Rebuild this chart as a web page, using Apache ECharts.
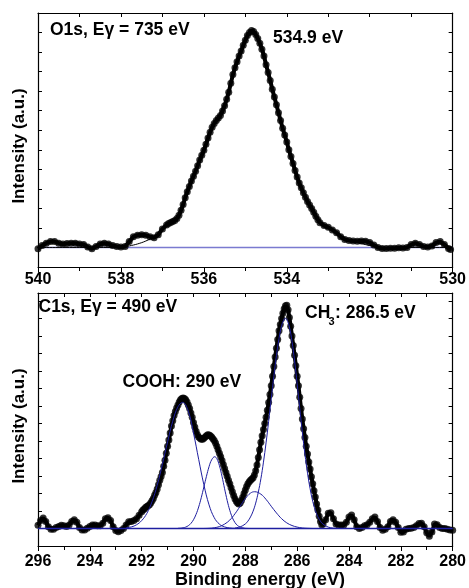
<!DOCTYPE html>
<html>
<head>
<meta charset="utf-8">
<script src="https://cdn.jsdelivr.net/npm/echarts@6/dist/echarts.min.js"></script>
<style>
html,body{margin:0;padding:0;background:#fff;}
#chart{width:469px;height:588px;}
</style>
</head>
<body>
<div id="chart"></div>
<script>
// ---------- DATA ----------
// O1s spectrum: [binding energy (eV), intensity (a.u.)]
var o1sPoints = [
[540.0,-0.07],[539.9,0.1],[539.8,0.22],[539.7,0.3],[539.6,0.3],[539.5,0.22],[539.4,0.18],[539.3,0.2],[539.2,0.22],[539.1,0.22],
[539.0,0.18],[538.9,0.15],[538.8,0.02],[538.7,-0.07],[538.6,0.05],[538.5,0.18],[538.4,0.22],[538.3,0.18],[538.2,0.1],[538.1,0.05],
[538.0,0.02],[537.9,0.05],[537.8,0.3],[537.7,0.55],[537.6,0.63],[537.5,0.65],[537.4,0.62],[537.3,0.55],[537.2,0.5],[537.1,0.65],
[537.0,0.95],[536.9,1.15],[536.85,1.22],[536.8,1.28],[536.75,1.33],[536.7,1.38],[536.65,1.48],[536.6,1.65],[536.55,1.9],[536.5,2.2],
[536.45,2.55],[536.4,2.85],[536.35,3.12],[536.3,3.4],[536.25,3.65],[536.2,3.9],[536.15,4.18],[536.1,4.47],[536.05,4.72],[536.0,4.97],
[535.95,5.28],[535.9,5.6],[535.85,5.9],[535.8,6.15],[535.75,6.35],[535.7,6.5],[535.65,6.62],[535.6,6.76],[535.55,6.98],[535.5,7.25],
[535.45,7.58],[535.4,7.95],[535.35,8.4],[535.3,8.85],[535.25,9.2],[535.2,9.5],[535.15,9.8],[535.1,10.05],[535.05,10.35],[535.0,10.6],
[534.95,10.85],[534.9,11.0],[534.85,11.1],[534.8,11.05],[534.75,10.9],[534.7,10.7],[534.65,10.45],[534.6,10.15],[534.55,9.8],[534.5,9.35],
[534.45,8.95],[534.4,8.55],[534.35,8.1],[534.3,7.7],[534.25,7.3],[534.2,6.9],[534.15,6.5],[534.1,6.1],[534.05,5.75],[534.0,5.4],
[533.95,5.0],[533.9,4.65],[533.85,4.3],[533.8,3.94],[533.75,3.6],[533.7,3.3],[533.65,3.05],[533.6,2.8],[533.55,2.57],[533.5,2.35],
[533.45,2.17],[533.4,2.0],[533.35,1.8],[533.3,1.6],[533.25,1.42],[533.2,1.27],[533.1,1.12],[533.0,1.03],[532.9,0.9],[532.8,0.75],
[532.7,0.55],[532.6,0.41],[532.5,0.36],[532.4,0.33],[532.3,0.32],[532.2,0.33],[532.1,0.32],[532.0,0.25],[531.9,0.12],[531.8,0.0],
[531.7,-0.05],[531.6,-0.05],[531.5,-0.04],[531.4,-0.04],[531.3,-0.02],[531.2,-0.03],[531.1,0.0],[531.0,0.15],[530.9,0.22],[530.8,0.15],
[530.7,0.05],[530.6,0.02],[530.5,0.08],[530.4,0.25],[530.3,0.3],[530.2,0.15],[530.1,-0.05],[530.05,-0.1]
];
// O1s fitted envelope (thin black line)
var o1sFit = [
[540,0.0],[539,0.0],[538.2,0.0],[538.0,0.02],[537.8,0.08],[537.6,0.18],[537.4,0.33],[537.2,0.55],[537.0,0.88],[536.8,1.28],
[536.6,1.75],[536.4,2.7],[536.2,3.9],[536.0,5.0],[535.8,6.1],[535.6,6.95],[535.4,8.0],[535.2,9.4],[535.0,10.45],[534.9,10.85],
[534.8,10.95],[534.7,10.65],[534.6,10.1],[534.4,8.55],[534.2,6.9],[534.0,5.4],[533.8,3.94],[533.6,2.8],[533.4,2.0],[533.2,1.3],
[533.0,1.0],[532.8,0.72],[532.6,0.48],[532.4,0.32],[532.2,0.2],[532.0,0.1],[531.8,0.04],[531.5,0.0],[530,0.0]
];
var o1sBaseline = [[540,0],[530,0]];

// C1s spectrum: [binding energy (eV), intensity (a.u.)]
var c1sPoints = [
[296.0,0.18],[295.9,0.45],[295.8,0.6],[295.7,0.4],[295.6,0.1],[295.5,-0.05],[295.4,-0.05],[295.3,0.05],[295.2,0.12],[295.1,0.18],
[295.0,0.15],[294.9,0.12],[294.8,0.2],[294.7,0.4],[294.6,0.5],[294.5,0.35],[294.4,0.05],[294.3,-0.08],[294.2,-0.08],[294.1,0.02],
[294.0,0.12],[293.9,0.2],[293.8,0.2],[293.7,0.15],[293.6,0.15],[293.5,0.3],[293.4,0.55],[293.3,0.62],[293.2,0.45],[293.1,0.1],
[293.0,-0.12],[292.9,-0.18],[292.8,-0.12],[292.7,0.0],[292.6,0.2],[292.5,0.38],[292.4,0.4],[292.3,0.45],[292.2,0.55],[292.1,0.75],
[292.0,0.95],[291.95,1.05],[291.9,1.12],[291.85,1.2],[291.8,1.25],[291.75,1.3],[291.7,1.35],[291.65,1.45],[291.6,1.58],[291.55,1.72],
[291.5,1.9],[291.45,2.05],[291.4,2.25],[291.35,2.5],[291.3,2.75],[291.25,2.97],[291.2,3.2],[291.15,3.55],[291.1,3.9],[291.05,4.3],
[291.0,4.7],[290.95,5.05],[290.9,5.45],[290.85,5.85],[290.8,6.15],[290.75,6.45],[290.7,6.68],[290.65,6.88],[290.6,7.05],[290.55,7.22],
[290.5,7.35],[290.45,7.42],[290.4,7.45],[290.35,7.42],[290.3,7.35],[290.25,7.22],[290.2,7.05],[290.15,6.85],[290.1,6.6],[290.05,6.35],
[290.0,6.05],[289.95,5.8],[289.9,5.55],[289.85,5.35],[289.8,5.22],[289.75,5.15],[289.7,5.1],[289.65,5.1],[289.6,5.15],[289.55,5.22],
[289.5,5.3],[289.45,5.35],[289.4,5.34],[289.35,5.3],[289.3,5.22],[289.25,5.12],[289.2,5.02],[289.15,4.88],[289.1,4.7],[289.05,4.5],
[289.0,4.3],[288.95,4.1],[288.9,3.88],[288.85,3.65],[288.8,3.42],[288.75,3.2],[288.7,2.98],[288.65,2.75],[288.6,2.55],[288.55,2.33],
[288.5,2.1],[288.45,1.88],[288.4,1.7],[288.35,1.55],[288.3,1.45],[288.25,1.4],[288.2,1.45],[288.15,1.6],[288.1,1.78],[288.05,2.0],
[288.0,2.2],[287.95,2.4],[287.9,2.55],[287.85,2.67],[287.8,2.75],[287.75,2.82],[287.7,2.9],[287.65,3.05],[287.6,3.3],[287.55,3.63],
[287.5,4.05],[287.45,4.5],[287.4,4.92],[287.35,5.3],[287.3,5.65],[287.25,6.0],[287.2,6.35],[287.15,6.75],[287.1,7.2],[287.05,7.65],
[287.0,8.15],[286.95,8.7],[286.9,9.25],[286.85,9.8],[286.8,10.3],[286.75,10.8],[286.7,11.3],[286.65,11.65],[286.6,12.0],[286.55,12.3],
[286.5,12.55],[286.45,12.72],[286.4,12.75],[286.35,12.5],[286.3,12.05],[286.25,11.55],[286.2,11.0],[286.15,10.45],[286.1,9.9],[286.05,9.3],
[286.0,8.7],[285.95,8.15],[285.9,7.5],[285.85,6.85],[285.8,6.25],[285.75,5.7],[285.7,5.2],[285.65,4.7],[285.6,4.25],[285.55,3.8],
[285.5,3.4],[285.45,2.95],[285.4,2.55],[285.35,2.15],[285.3,1.8],[285.25,1.4],[285.2,1.05],[285.15,0.7],[285.1,0.4],[285.05,0.22],
[285.0,0.25],[284.9,0.5],[284.8,0.87],[284.7,0.9],[284.6,0.55],[284.5,0.25],[284.4,0.2],[284.3,0.2],[284.2,0.2],[284.1,0.35],
[284.0,0.65],[283.9,0.77],[283.8,0.5],[283.7,0.1],[283.6,0.0],[283.5,0.05],[283.4,0.15],[283.3,0.22],[283.2,0.35],[283.1,0.55],
[283.0,0.65],[282.9,0.4],[282.8,0.05],[282.7,-0.1],[282.6,-0.05],[282.5,0.1],[282.4,0.4],[282.3,0.5],[282.2,0.35],[282.1,0.05],
[282.0,-0.22],[281.9,-0.2],[281.8,-0.05],[281.7,0.0],[281.6,0.02],[281.5,0.05],[281.4,0.15],[281.3,0.28],[281.2,0.3],[281.1,0.1],
[281.0,-0.25],[280.9,-0.45],[280.8,-0.2],[280.7,0.25],[280.6,0.22],[280.5,0.05],[280.4,0.0],[280.3,0.0],[280.2,-0.05],[280.1,-0.08],
[280.0,-0.1]
];
// C1s fitted components (blue lines)
var c1sCOOH = [
[292.6,0.04],[292.4,0.09],[292.2,0.21],[292.0,0.45],[291.8,0.86],[291.6,1.53],[291.4,2.47],[291.2,3.66],[291.0,4.95],[290.8,6.13],
[290.6,6.95],[290.42,7.2],[290.2,6.7],[290.0,5.45],[289.8,3.95],[289.6,2.5],[289.4,1.35],[289.2,0.62],[289.0,0.25],[288.8,0.09],
[288.6,0.03],[288.4,0.01],[288.2,0.0]
];
var c1sPeak2 = [
[290.6,0.01],[290.5,0.02],[290.4,0.04],[290.3,0.08],[290.2,0.16],[290.1,0.29],[290.0,0.5],[289.9,0.81],[289.8,1.23],[289.7,1.76],
[289.6,2.37],[289.5,2.98],[289.4,3.53],[289.3,3.92],[289.18,4.1],[289.1,3.99],[289.0,3.59],[288.9,2.98],[288.8,2.27],[288.7,1.6],
[288.6,1.04],[288.5,0.62],[288.4,0.34],[288.3,0.17],[288.2,0.08],[288.1,0.04],[288.0,0.01],[287.8,0.0]
];
var c1sPeak3 = [
[289.6,0.0],[289.4,0.01],[289.2,0.04],[289.0,0.11],[288.8,0.25],[288.6,0.48],[288.4,0.84],[288.2,1.27],[288.0,1.71],[287.8,2.02],
[287.64,2.1],[287.4,1.96],[287.2,1.66],[287.0,1.27],[286.8,0.89],[286.6,0.56],[286.4,0.32],[286.2,0.17],[286.0,0.08],[285.8,0.03],
[285.6,0.01],[285.4,0.0]
];
var c1sCH3 = [
[288.4,0.03],[288.2,0.09],[288.0,0.26],[287.9,0.42],[287.8,0.66],[287.7,0.99],[287.6,1.45],[287.5,2.07],[287.4,2.84],[287.3,3.79],
[287.2,4.89],[287.1,6.12],[287.0,7.41],[286.9,8.69],[286.8,9.87],[286.7,10.86],[286.6,11.58],[286.5,11.95],[286.45,12.0],[286.4,11.94],
[286.3,11.51],[286.2,10.69],[286.1,9.57],[286.0,8.26],[285.9,6.86],[285.8,5.5],[285.7,4.24],[285.6,3.16],[285.5,2.27],[285.4,1.56],
[285.3,1.04],[285.2,0.67],[285.1,0.41],[285.0,0.25],[284.8,0.08],[284.6,0.02],[284.4,0.0]
];
var c1sBaseline = [[296,0],[280,0]];

var o1sTicks = {min: 530, max: 540, step: 2};
var c1sTicks = {min: 280, max: 296, step: 2};

// ---------- CHART ----------
var FONT = '"Liberation Sans", Arial, Helvetica, sans-serif';
var chart = echarts.init(document.getElementById('chart'), null, {renderer: 'canvas'});

function bottomX(grid, t, margin) {
  return {
    type: 'value', gridIndex: grid, min: t.min, max: t.max, interval: t.step, inverse: true,
    position: 'bottom',
    axisLine: {show: true, onZero: false, lineStyle: {color: '#000', width: 1.2}},
    axisTick: {show: true, inside: false, length: 5, lineStyle: {color: '#000', width: 1}},
    minorTick: {show: true, splitNumber: 2, length: 4, lineStyle: {color: '#000', width: 1}},
    splitLine: {show: false}, minorSplitLine: {show: false},
    axisLabel: {show: true, margin: margin, color: '#000', fontSize: 16, fontWeight: 'bold', fontFamily: FONT}
  };
}
function topX(grid, t) {
  return {
    type: 'value', gridIndex: grid, min: t.min, max: t.max, interval: 1, inverse: true,
    position: 'top',
    axisLine: {show: true, onZero: false, lineStyle: {color: '#000', width: 1.2}},
    axisTick: {show: true, inside: true, length: 4, lineStyle: {color: '#000', width: 1}},
    splitLine: {show: false}, axisLabel: {show: false}
  };
}
function yAx(grid, pos, max) {
  return {
    type: 'value', gridIndex: grid, min: -1, max: max, interval: 1, position: pos,
    axisLine: {show: true, onZero: false, lineStyle: {color: '#000', width: 1.2}},
    axisTick: {show: true, inside: true, length: 4, lineStyle: {color: '#000', width: 1}},
    splitLine: {show: false}, axisLabel: {show: false}
  };
}
function txt(x, y, s, size, extra) {
  var o = {type: 'text', x: x, y: y, silent: true,
    style: {text: s, fill: '#000', font: 'bold ' + size + 'px ' + FONT, textVerticalAlign: 'middle', textAlign: 'left'}};
  if (extra) { for (var k in extra) o.style[k] = extra[k]; }
  return o;
}

var BLUE = '#1e1ea0';
function comp(data) {
  return {type: 'line', xAxisIndex: 2, yAxisIndex: 2, data: data, showSymbol: false, smooth: 0.4,
    lineStyle: {color: BLUE, width: 1}, z: 4, silent: true};
}
function dots(xi, yi, data) {
  return [
    {type: 'line', xAxisIndex: xi, yAxisIndex: yi, data: data, showSymbol: false,
      lineStyle: {color: '#000', width: 4}, z: 2, silent: true},
    {type: 'scatter', xAxisIndex: xi, yAxisIndex: yi, data: data, symbol: 'circle', symbolSize: 7,
      itemStyle: {color: '#000'}, z: 2, silent: true}
  ];
}

var series = [
  {type: 'line', xAxisIndex: 0, yAxisIndex: 0, data: o1sBaseline, showSymbol: false,
    lineStyle: {color: '#7a7ad0', width: 1.5}, z: 1, silent: true}
].concat(dots(0, 0, o1sPoints)).concat([
  {type: 'line', xAxisIndex: 0, yAxisIndex: 0, data: o1sFit, showSymbol: false, smooth: 0.4,
    lineStyle: {color: '#000', width: 1}, z: 3, silent: true}
]).concat(dots(2, 2, c1sPoints)).concat([
  comp(c1sCOOH), comp(c1sPeak2), comp(c1sPeak3), comp(c1sCH3),
  {type: 'line', xAxisIndex: 2, yAxisIndex: 2, data: c1sBaseline, showSymbol: false,
    lineStyle: {color: BLUE, width: 1.5}, z: 5, silent: true}
]);

var option = {
  animation: false,
  backgroundColor: '#fff',
  grid: [
    {left: 38, top: 13, width: 418, height: 254},
    {left: 38, top: 293, width: 418, height: 253}
  ],
  xAxis: [bottomX(0, o1sTicks, 5), topX(0, o1sTicks), bottomX(1, c1sTicks, 8), topX(1, c1sTicks)],
  yAxis: [yAx(0, 'left', 12), yAx(0, 'right', 12), yAx(1, 'left', 13.45), yAx(1, 'right', 13.45)],
  series: series,
  graphic: [
    txt(50, 30, 'O1s, E\u03B3 = 735 eV', 17.5),
    txt(273, 38.5, '534.9 eV', 17.5),
    txt(38.5, 307, 'C1s, E\u03B3 = 490 eV', 17.5),
    txt(122.5, 382, 'COOH: 290 eV', 17.5),
    txt(305, 313.5, 'CH', 17.5),
    txt(328.5, 321.5, '3', 11),
    txt(335, 313.5, ': 286.5 eV', 17.5),
    txt(19.5, 146, 'Intensity (a.u.)', 17, {textAlign: 'center'}),
    txt(19.5, 426, 'Intensity (a.u.)', 17, {textAlign: 'center'}),
    txt(260, 580, 'Binding energy (eV)', 18, {textAlign: 'center'})
  ]
};
option.graphic[7].rotation = Math.PI / 2;
option.graphic[8].rotation = Math.PI / 2;
chart.setOption(option);
</script>
</body>
</html>
